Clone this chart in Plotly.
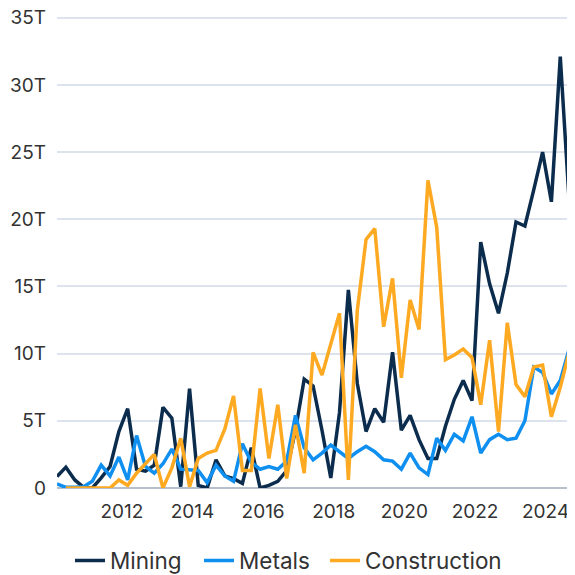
import plotly.graph_objects as go
import pandas as pd

dates = pd.date_range("2010-03-01", periods=60, freq="3MS")

mining = [0.85, 1.55, 0.6, 0.05, 0.0, 0.75, 1.6, 4.2, 5.9, 1.4,
          1.25, 1.7, 6.0, 5.2, 0.1, 7.4, 0.2, 0.0, 2.1, 0.9,
          0.7, 0.35, 3.0, 0.0, 0.2, 0.5, 1.3, 4.3, 8.1, 7.6,
          4.3, 0.75, 5.6, 14.75, 7.8, 4.2, 5.9, 4.9, 10.1, 4.3,
          5.4, 3.6, 2.2, 2.2, 4.6, 6.6, 8.0, 6.5, 18.3, 15.2,
          13.0, 16.0, 19.8, 19.5, 22.2, 25.0, 21.3, 32.1, 21.3, 34.5]

metals = [0.3, 0.05, 0.05, 0.1, 0.5, 1.7, 0.9, 2.3, 0.6, 3.9,
          1.6, 1.1, 1.8, 2.9, 1.4, 1.35, 1.3, 0.4, 1.7, 0.9,
          0.5, 3.3, 1.9, 1.4, 1.6, 1.4, 2.0, 5.4, 3.0, 2.1,
          2.6, 3.2, 2.7, 2.2, 2.7, 3.1, 2.7, 2.1, 2.0, 1.4,
          2.6, 1.5, 1.0, 3.7, 2.8, 4.0, 3.5, 5.3, 2.6, 3.6,
          4.0, 3.6, 3.7, 5.0, 9.0, 8.6, 7.0, 8.0, 10.35, 9.7]

construction = [None, 0, 0, 0, 0, 0, 0, 0.6, 0.2, 1.1,
                1.85, 2.5, 0.0, 1.5, 3.7, 0.1, 2.2, 2.6, 2.8, 4.4,
                6.85, 1.3, 1.3, 7.4, 2.2, 6.2, 0.7, 4.7, 1.1, 10.1,
                8.4, 10.7, 13.0, 0.6, 13.2, 18.5, 19.3, 12.0, 15.6, 8.2,
                14.0, 11.8, 22.9, 19.4, 9.55, 9.9, 10.35, 9.7, 6.2, 11.0,
                4.2, 12.3, 7.7, 6.8, 9.0, 9.15, 5.3, 7.5, 10.1, 10.7]

series = [("Mining", mining, "#0b2c4d", 84),
          ("Metals", metals, "#0f8ff0", 81),
          ("Construction", construction, "#fda922", None)]

T = 1e12
fig = go.Figure()
for name, vals, color, lw in series:
    tr = go.Scatter(
        x=dates, y=[None if v is None else v * T for v in vals],
        mode="lines", name=name,
        line=dict(color=color, width=3.5),
    )
    if lw:
        tr.legendwidth = lw
    fig.add_trace(tr)

ytick_vals = [0, 5, 10, 15, 20, 25, 30, 35]
ytick_text = ["0", "5T", "10T", "15T", "20T", "25T", "30T", "35T"]

fig.update_layout(
    width=575, height=575,
    margin=dict(l=49, r=0, t=7, b=95, autoexpand=False),
    paper_bgcolor="white", plot_bgcolor="white",
    font=dict(family="Inter, Roboto, sans-serif", size=19, color="#333333"),
    showlegend=True,
    legend=dict(orientation="h", xref="container", yref="paper",
                x=0.1078, xanchor="left", y=-0.154, yanchor="middle",
                font=dict(size=22.5, color="#333333")),
    xaxis=dict(
        type="date", automargin=False,
        range=["2010-03-01", "2025-01-22"],
        tick0="2012-01-01", dtick="M24", tickformat="%Y",
        showgrid=False, zeroline=False, showline=False,
        ticks="", ticklabelstandoff=10,
        tickfont=dict(size=19, color="#333333"),
    ),
    yaxis=dict(
        automargin=False,
        range=[0, 35.2 * T],
        tickvals=[v * T for v in ytick_vals], ticktext=ytick_text,
        showgrid=True, gridcolor="#dce3ec", gridwidth=1.5,
        zeroline=True, zerolinecolor="#b6c0cc", zerolinewidth=2,
        showline=False, ticks="", ticklabelstandoff=10,
        ticklabeloverflow="allow",
        tickfont=dict(size=19, color="#333333"),
    ),
)

fig.write_html("out.html")
